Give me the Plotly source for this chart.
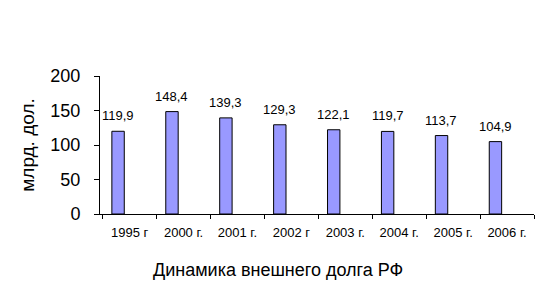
import plotly.graph_objects as go

categories = ["1995 г", "2000 г.", "2001 г.", "2002 г", "2003 г.", "2004 г.", "2005 г.", "2006 г."]
values = [119.9, 148.4, 139.3, 129.3, 122.1, 119.7, 113.7, 104.9]
labels = ["119,9", "148,4", "139,3", "129,3", "122,1", "119,7", "113,7", "104,9"]
y_ticks = [0, 50, 100, 150, 200]

BAR_OFFSET = -0.33
BAR_WIDTH = 0.23

fig = go.Figure()
fig.add_trace(go.Bar(
    x=categories, y=values,
    marker=dict(color="#9999FF", line=dict(color="black", width=1)),
    offset=BAR_OFFSET, width=BAR_WIDTH, hoverinfo="x+y",
))

plot_w = 553 - 100 - 19
cat_px = plot_w / len(categories)
label_xshift = (BAR_OFFSET + BAR_WIDTH / 2) * cat_px

annotations = [
    dict(x=c, y=v, text=t, xref="x", yref="y", showarrow=False,
         xanchor="center", yanchor="bottom", xshift=label_xshift, yshift=6,
         font=dict(family="Liberation Sans, Arial", size=13, color="black"))
    for c, v, t in zip(categories, values, labels)
]
annotations.append(dict(
    text="Динамика внешнего долга РФ",
    x=(278 - 100) / plot_w, y=(300 - 86 - 270) / (300 - 162),
    xref="paper", yref="paper", xanchor="center", yanchor="middle",
    showarrow=False, font=dict(size=18),
))

fig.update_layout(
    width=553, height=300,
    margin=dict(l=100, r=19, t=76, b=86),
    paper_bgcolor="white", plot_bgcolor="white",
    showlegend=False,
    font=dict(family="Liberation Sans, Arial", color="black"),
    xaxis=dict(
        type="category", showline=True, linecolor="black", linewidth=1,
        ticks="outside", ticklen=4, tickcolor="black", tickson="boundaries",
        tickfont=dict(size=13), showgrid=False, ticklabelstandoff=6,
    ),
    yaxis=dict(
        range=[0, 200], tickvals=y_ticks, showline=True, linecolor="black", linewidth=1,
        ticks="outside", ticklen=5, tickcolor="black",
        tickfont=dict(size=18), showgrid=False, zeroline=False,
        title=dict(text="млрд. дол.", font=dict(size=19), standoff=10),
        ticklabelstandoff=10,
    ),
    annotations=annotations,
)
fig.write_html("out.html")
